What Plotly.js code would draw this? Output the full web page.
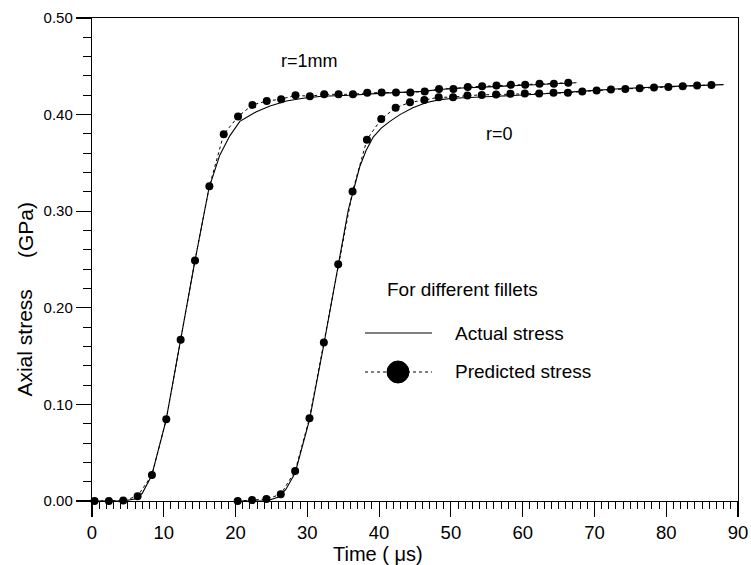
<!DOCTYPE html>
<html>
<head>
<meta charset="utf-8">
<script src="https://cdn.plot.ly/plotly-3.0.1.min.js"></script>
<style>html,body{margin:0;padding:0;background:#fff;}#chart{width:751px;height:565px;}</style>
</head>
<body>
<div id="chart"></div>
<script>
// Predicted stress, r = 1mm
var predR1x = [0.35,2.35,4.35,6.35,8.35,10.35,12.35,14.35,16.35,18.35,20.35,22.35,24.35,26.35,28.35,30.35,32.35,34.35,36.35,38.35,40.35,42.35,44.35,46.35,48.35,50.35,52.35,54.35,56.35,58.35,60.35,62.35,64.35,66.35];
var predR1y = [0,0,0.0005,0.005,0.027,0.0847,0.1668,0.249,0.3257,0.3796,0.398,0.410,0.414,0.416,0.420,0.419,0.421,0.421,0.421,0.4225,0.423,0.423,0.423,0.424,0.4266,0.4266,0.4287,0.4293,0.430,0.4308,0.431,0.432,0.432,0.433];
// Predicted stress, r = 0
var predR0x = [20.3,22.3,24.3,26.3,28.3,30.3,32.3,34.3,36.3,38.3,40.3,42.3,44.3,46.3,48.3,50.3,52.3,54.3,56.3,58.3,60.3,62.3,64.3,66.3,68.3,70.3,72.3,74.3,76.3,78.3,80.3,82.3,84.3,86.3];
var predR0y = [0,0.001,0.002,0.007,0.031,0.0857,0.164,0.245,0.3205,0.374,0.3955,0.407,0.4127,0.415,0.418,0.418,0.4197,0.4204,0.4207,0.4215,0.4218,0.4218,0.4225,0.4225,0.424,0.425,0.426,0.4266,0.4272,0.428,0.4287,0.4293,0.430,0.4307];
// Actual stress, r = 1mm
var actR1x = [0.35,4.3,6.0,7.0,8.3,10.3,12.3,14.3,16.3,17.8,19.2,20.6,21.5,22.9,24.8,27.1,29.4,32,36,40,46,50,56,62,67.5];
var actR1y = [0,0,0.002,0.008,0.026,0.083,0.165,0.247,0.324,0.358,0.378,0.393,0.397,0.403,0.409,0.414,0.417,0.419,0.420,0.422,0.424,0.427,0.429,0.431,0.433];
// Actual stress, r = 0
var actR0x = [20.3,24.3,26,27,28.3,30.3,32.3,34.3,35.7,37.3,38.2,39.2,40.3,41.5,42.9,44.7,46.6,48.5,50.4,56.4,62,68,74,80,88];
var actR0y = [0,0,0.004,0.012,0.029,0.084,0.162,0.243,0.301,0.346,0.363,0.377,0.386,0.393,0.400,0.407,0.4125,0.4155,0.417,0.419,0.421,0.424,0.427,0.429,0.431];

var xTicks = [0,10,20,30,40,50,60,70,80,90];
var yTicks = [0.00,0.10,0.20,0.30,0.40,0.50];

var FONT = 'Arial, "Liberation Sans", Helvetica, sans-serif';

function actual(x, y) {
  return {x: x, y: y, mode: 'lines', type: 'scatter', line: {color: '#000', width: 1.1}, showlegend: false, hoverinfo: 'skip'};
}
function predicted(x, y) {
  return {x: x, y: y, mode: 'lines+markers', type: 'scatter', cliponaxis: false,
    line: {color: '#000', width: 1, dash: 'dot'}, marker: {color: '#000', size: 8}, showlegend: false};
}

var data = [actual(actR1x, actR1y), actual(actR0x, actR0y), predicted(predR1x, predR1y), predicted(predR0x, predR0y)];

var layout = {
  width: 751, height: 565,
  margin: {l: 92, r: 13, t: 18, b: 64},
  paper_bgcolor: '#fff', plot_bgcolor: '#fff',
  showlegend: false,
  font: {family: FONT, color: '#000'},
  xaxis: {
    range: [0, 90], tickvals: xTicks, ticktext: xTicks.map(String),
    showgrid: false, zeroline: false, showline: true, mirror: true, linecolor: '#000', linewidth: 1.2,
    ticks: 'outside', ticklen: 15, tickwidth: 1.2, tickcolor: '#000',
    tickfont: {family: FONT, size: 18.5, color: '#000'},
    minor: {dtick: 1, ticks: 'outside', ticklen: 7, tickwidth: 1, tickcolor: '#000', showgrid: false}
  },
  yaxis: {
    range: [0, 0.5], tickvals: yTicks, tickformat: '.2f',
    showgrid: false, zeroline: false, showline: true, mirror: true, linecolor: '#000', linewidth: 1.2,
    ticks: 'outside', ticklen: 15, tickwidth: 1.2, tickcolor: '#000',
    tickfont: {family: FONT, size: 15, color: '#000'},
    minor: {dtick: 0.02, ticks: 'outside', ticklen: 8, tickwidth: 1, tickcolor: '#000', showgrid: false}
  },
  annotations: [
    {xref: 'paper', yref: 'paper', x: 0.4427, y: -0.109, text: 'Time ( \u03bcs)', showarrow: false, xanchor: 'center', yanchor: 'middle', borderpad: 0, font: {family: FONT, size: 20}},
    {xref: 'paper', yref: 'paper', x: -0.1037, y: 0.326, text: 'Axial stress', textangle: -90, showarrow: false, xanchor: 'center', yanchor: 'middle', font: {family: FONT, size: 21}},
    {xref: 'paper', yref: 'paper', x: -0.1037, y: 0.561, text: '(GPa)', textangle: -90, showarrow: false, xanchor: 'center', yanchor: 'middle', font: {family: FONT, size: 21}},
    {xref: 'x', yref: 'y', x: 30.3, y: 0.455, text: 'r=1mm', showarrow: false, xanchor: 'center', yanchor: 'middle', font: {family: FONT, size: 18}},
    {xref: 'x', yref: 'y', x: 56.8, y: 0.380, text: 'r=0', showarrow: false, xanchor: 'center', yanchor: 'middle', font: {family: FONT, size: 18}},
    {xref: 'paper', yref: 'paper', x: 0.5743, y: 0.4369, text: 'For different fillets', showarrow: false, xanchor: 'center', yanchor: 'middle', font: {family: FONT, size: 19}},
    {xref: 'paper', yref: 'paper', x: 0.5588, y: 0.3478, text: 'Actual stress', showarrow: false, xanchor: 'left', yanchor: 'middle', font: {family: FONT, size: 19}},
    {xref: 'paper', yref: 'paper', x: 0.5588, y: 0.2671, text: 'Predicted stress', showarrow: false, xanchor: 'left', yanchor: 'middle', font: {family: FONT, size: 19}}
  ],
  shapes: [
    {type: 'line', xref: 'paper', yref: 'paper', x0: 0.4226, x1: 0.5263, y0: 0.3478, y1: 0.3478, line: {color: '#000', width: 1.1}},
    {type: 'line', xref: 'paper', yref: 'paper', x0: 0.4226, x1: 0.5263, y0: 0.2671, y1: 0.2671, line: {color: '#000', width: 1, dash: 'dot'}},
    {type: 'circle', xref: 'paper', yref: 'paper', xsizemode: 'pixel', ysizemode: 'pixel', xanchor: 0.4737, yanchor: 0.2671, x0: -11, x1: 11, y0: -11, y1: 11, fillcolor: '#000', line: {color: '#000', width: 1}}
  ]
};

Plotly.newPlot('chart', data, layout, {staticPlot: true, displayModeBar: false});
</script>
</body>
</html>
